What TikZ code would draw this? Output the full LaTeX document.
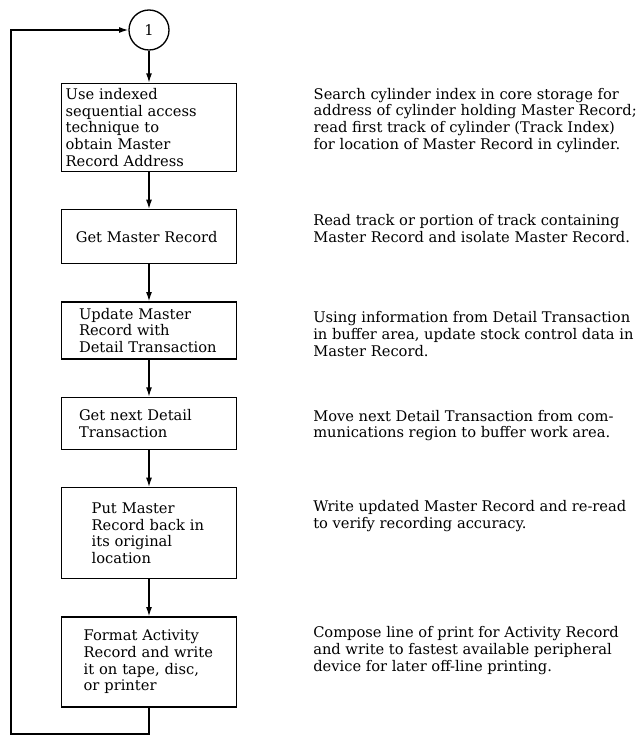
\documentclass[tikz,border=0pt]{standalone}
\usepackage{fontspec}
\setmainfont{DejaVu Serif}
\usetikzlibrary{arrows.meta, positioning}

\begin{document}
\begin{tikzpicture}[
    stepbox/.style={rectangle, draw=black, line width=1pt,
                minimum width=131pt, align=left, inner ysep=3pt,
                font=\fontsize{11}{12.5}\selectfont},
    note/.style={inner sep=0pt, align=left,
                font=\fontsize{11}{12.5}\selectfont},
    connector/.style={circle, draw=black, line width=1pt,
                minimum size=30pt, inner sep=0pt,
                font=\fontsize{11}{12.5}\selectfont},
    arrow/.style={-{Latex[length=7pt, width=4.5pt]}, line width=1pt},
    node distance=27.75pt
]

\useasboundingbox (0,0) rectangle (480.75pt,-552pt);

%% CONNECTOR
\node[connector] (conn) at (111.75pt,-22.5pt) {1};

%% STEPS
\node[stepbox, text width=125pt, minimum height=66pt,
      below=24pt of conn] (step1) {
    Use indexed\\
    sequential access\\
    technique to\\
    obtain Master\\
    Record Address
};

\node[stepbox, minimum height=40.5pt, below=of step1] (step2) {
    Get Master Record
};

\node[stepbox, text width=105pt, minimum height=42.75pt,
      below=of step2] (step3) {
    Update Master\\
    Record with\\
    Detail Transaction
};

\node[stepbox, text width=105pt, minimum height=39pt,
      below=of step3] (step4) {
    Get next Detail\\
    Transaction
};

\node[stepbox, text width=86pt, minimum height=68.25pt,
      below=of step4] (step5) {
    Put Master\\
    Record back in\\
    its original\\
    location
};

\node[stepbox, text width=98pt, minimum height=67.5pt,
      below=of step5] (step6) {
    Format Activity\\
    Record and write\\
    it on tape, disc,\\
    or printer
};

\draw[arrow] (conn) -- (step1);
\draw[arrow] (step1) -- (step2);
\draw[arrow] (step2) -- (step3);
\draw[arrow] (step3) -- (step4);
\draw[arrow] (step4) -- (step5);
\draw[arrow] (step5) -- (step6);

%% LOOP BACK
\coordinate (loopcorner) at (8.25pt,-550.5pt);
\draw[arrow] (step6.south) |- (loopcorner) |- (conn.west);

%% NOTES
\node[note, right=57pt of step1.north east, anchor=north west,
      yshift=-3.75pt] (note1) {
    Search cylinder index in core storage for\\
    address of cylinder holding Master Record;\\
    read first track of cylinder (Track Index)\\
    for location of Master Record in cylinder.
};

\node[note, right=57pt of step2.north east, anchor=north west,
      yshift=-3.75pt] (note2) {
    Read track or portion of track containing\\
    Master Record and isolate Master Record.
};

\node[note, right=57pt of step3.north east, anchor=north west,
      yshift=-7.5pt] (note3) {
    Using information from Detail Transaction\\
    in buffer area, update stock control data in\\
    Master Record.
};

\node[note, right=57pt of step4.north east, anchor=north west,
      yshift=-9.75pt] (note4) {
    Move next Detail Transaction from com-\\
    munications region to buffer work area.
};

\node[note, right=57pt of step5.north east, anchor=north west,
      yshift=-9.75pt] (note5) {
    Write updated Master Record and re-read\\
    to verify recording accuracy.
};

\node[note, right=57pt of step6.north east, anchor=north west,
      yshift=-7.5pt] (note6) {
    Compose line of print for Activity Record\\
    and write to fastest available peripheral\\
    device for later off-line printing.
};

\end{tikzpicture}
\end{document}
